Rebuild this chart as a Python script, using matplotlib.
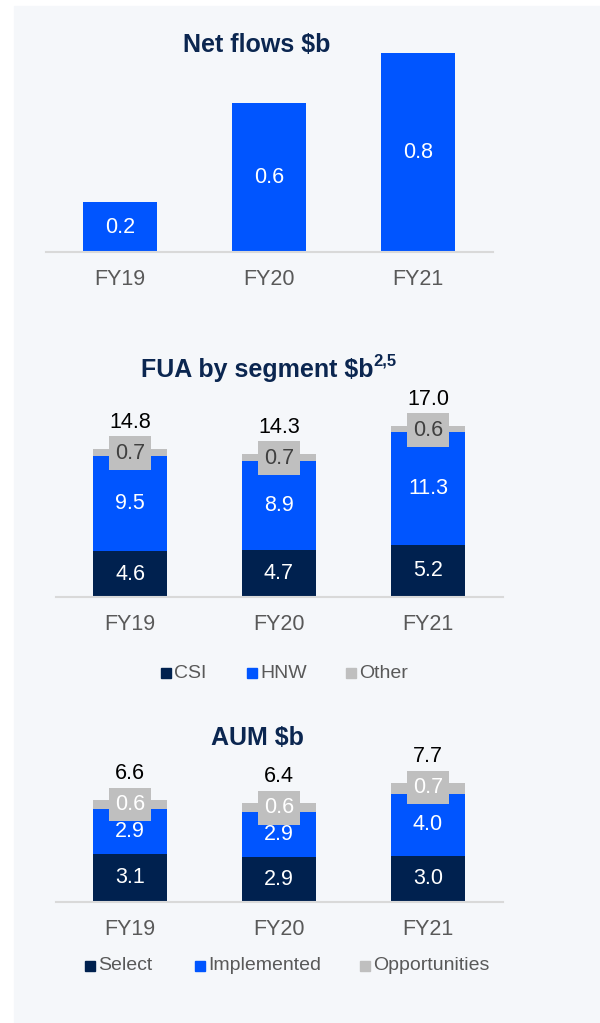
import matplotlib.pyplot as plt
from matplotlib.patches import Rectangle

plt.rcParams['font.family'] = ['Liberation Sans', 'DejaVu Sans']

# Data
years = ['FY19', 'FY20', 'FY21']
net_flows = [0.2, 0.6, 0.8]

fua_csi = [4.6, 4.7, 5.2]
fua_hnw = [9.5, 8.9, 11.3]
fua_other = [0.7, 0.7, 0.6]
fua_total = [14.8, 14.3, 17.0]

aum_select = [3.1, 2.9, 3.0]
aum_implemented = [2.9, 2.9, 4.0]
aum_opps = [0.6, 0.6, 0.7]
aum_total = [6.6, 6.4, 7.7]

# Colours
navy = '#00214F'
blue = '#0055FF'
grey = '#BFBFBF'
title_col = '#0B2650'
tick_col = '#595959'
panel_col = '#F5F7FA'

W, H = 600, 1023
fs = 15.5
fig = plt.figure(figsize=(W / 100, H / 100), dpi=100)
fig.patch.set_facecolor('white')
fig.patches.append(Rectangle((14 / W, 0), 1 - 14 / W, 1 - 6 / H,
                             transform=fig.transFigure, color=panel_col, zorder=-10))


def px_axes(left, right, base, top):
    ax = fig.add_axes([left / W, 1 - base / H, (right - left) / W, (base - top) / H])
    ax.set_facecolor('none')
    for s in ['top', 'right', 'left']:
        ax.spines[s].set_visible(False)
    ax.spines['bottom'].set_color('#D9D9D9')
    ax.spines['bottom'].set_linewidth(1.5)
    ax.set_yticks([])
    ax.set_xlim(-0.5, 2.5)
    ax.set_xticks(range(len(years)))
    ax.set_xticklabels(years, fontsize=fs, color=tick_col)
    ax.tick_params(axis='x', length=0, pad=12.5)
    return ax


def fig_text(x, y, s, **kw):
    fig.text(x / W, 1 - y / H, s, **kw)


def title(x, y, s, ha='center', size=18):
    fig_text(x, y, s, ha=ha, va='baseline', fontsize=size, weight='bold',
             color=title_col)


def legend_item(x, y, color, label):
    fig.patches.append(Rectangle((x / W, 1 - (y + 5) / H), 10 / W, 10 / H,
                                 transform=fig.transFigure, color=color))
    fig_text(x + 13, y, label, ha='left', va='center', fontsize=14, color=tick_col)


def bar_labels(ax, bottoms, values, color):
    for i, (b, v) in enumerate(zip(bottoms, values)):
        ax.text(i, b + v / 2, f'{v:.1f}', ha='center', va='center',
                fontsize=fs, color=color)


# Net flows
ax1 = px_axes(45.5, 492.5, 252, 28)
ax1.set_ylim(0, 0.9)
x = list(range(len(years)))
ax1.bar(x, net_flows, width=0.5, color=blue)
bar_labels(ax1, [0, 0, 0], net_flows, 'white')
title(257, 52, 'Net flows \\$b')


def stacked(ax, s1, s2, s3, totals, top_text_col, box_off):
    b2 = s1
    b3 = [a + b for a, b in zip(s1, s2)]
    ax.bar(x, s1, width=0.5, color=navy)
    ax.bar(x, s2, width=0.5, bottom=b2, color=blue)
    ax.bar(x, s3, width=0.5, bottom=b3, color=grey)
    bar_labels(ax, [0] * 3, s1, 'white')
    bar_labels(ax, b2, s2, 'white')
    for i in x:
        top = b3[i] + s3[i]
        ax.annotate(f'{s3[i]:.1f}', xy=(i, top), xytext=(0, box_off),
                    textcoords='offset points', ha='center', va='center',
                    fontsize=fs, color=top_text_col,
                    bbox=dict(boxstyle='square,pad=0.29', fc=grey, ec='none'))
        ax.annotate(f'{totals[i]:.1f}', xy=(i, top), xytext=(0, 15),
                    textcoords='offset points', ha='center', va='baseline',
                    fontsize=fs, color='black')


# FUA by segment
ax2 = px_axes(55.5, 502.5, 597, 397)
ax2.set_ylim(0, 20)
stacked(ax2, fua_csi, fua_hnw, fua_other, fua_total, '#404040', -2.9)
title(141, 377, 'FUA by segment \\$b', ha='left')
title(373, 366, '2,5', ha='left', size=12)
legend_item(161, 673, navy, 'CSI')
legend_item(247, 673, blue, 'HNW')
legend_item(346, 673, grey, 'Other')

# AUM
ax3 = px_axes(55.5, 502.5, 902, 747)
ax3.set_ylim(0, 10)
stacked(ax3, aum_select, aum_implemented, aum_opps, aum_total, 'white', -3.6)
title(257, 745, 'AUM \\$b')
legend_item(85, 966, navy, 'Select')
legend_item(195, 966, blue, 'Implemented')
legend_item(360, 966, grey, 'Opportunities')

fig.savefig('out.png', dpi=100)
